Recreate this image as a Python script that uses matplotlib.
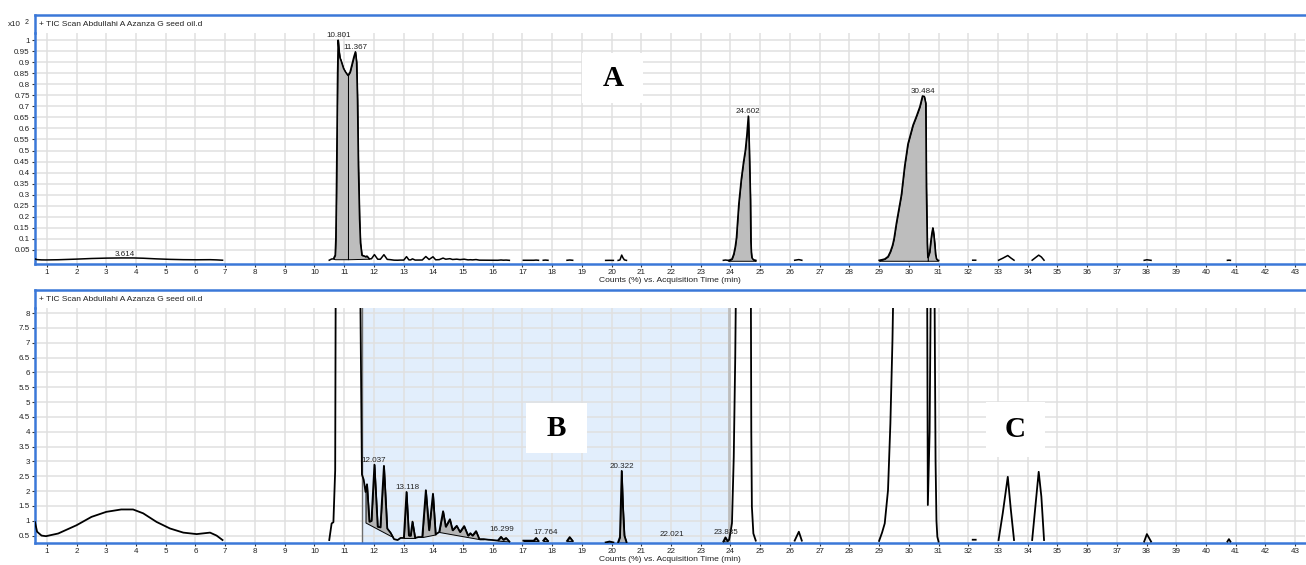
import numpy as np
import matplotlib
matplotlib.use('Agg')
import matplotlib.pyplot as plt
from matplotlib.patches import Rectangle
from matplotlib.ticker import FuncFormatter

plt.rcParams['font.family'] = ['Liberation Sans', 'DejaVu Sans']

# TIC trace: acquisition time (min) and counts (%)
# None = no signal drawn between segments
rt_min = [
    0.60, 0.67, 0.82, 0.97, 1.38, 2.00, 2.50, 3.00, 3.50, 3.90, 4.24, 4.69, 5.14, 5.59, 6.04, 6.49, 6.71, 6.91, None,
    10.50, 10.58, 10.64, 10.70, 10.72, 10.74, 10.76, 10.78, 10.80, 10.83, 10.86, 10.89, 10.98, 11.05, 11.13,
    11.20, 11.26, 11.33, 11.38, 11.42, 11.45, 11.48, 11.52, 11.55, 11.60, 11.66, 11.72, 11.77, 11.85, 11.92,
    12.02, 12.13, 12.22, 12.34, 12.45, 12.56, 12.68, 12.80, 12.90, 13.01, 13.10, 13.18, 13.24, 13.30, 13.39,
    13.50, 13.63, 13.75, 13.86, 13.99, 14.08, 14.20, 14.33, 14.42, 14.56, 14.65, 14.79, 14.90, 15.04, 15.17,
    15.25, 15.32, 15.44, 15.55, 15.70, 15.85, 16.00, 16.17, 16.28, 16.36, 16.45, 16.56, None,
    17.03, 17.38, 17.46, 17.54, None,
    17.70, 17.77, 17.86, None,
    18.50, 18.59, 18.69, None,
    19.80, 19.93, 20.06, None,
    20.22, 20.28, 20.31, 20.34, 20.38, 20.43, 20.50, None,
    23.76, 23.83, 23.90, 23.95, 24.00, 24.05, 24.11, 24.16, 24.20, 24.24, 24.28, 24.36, 24.44, 24.50, 24.55,
    24.60, 24.63, 24.65, 24.67, 24.685, 24.70, 24.72, 24.77, 24.85, None,
    26.16, 26.30, 26.40, None,
    29.00, 29.10, 29.19, 29.30, 29.38, 29.45, 29.50, 29.58, 29.75, 29.86, 29.97, 30.14, 30.25, 30.37, 30.46,
    30.52, 30.57, 30.59, 30.62, 30.64, 30.70, 30.74, 30.78, 30.81, 30.84, 30.87, 30.90, 30.93, 30.96, 31.00, None,
    32.15, 32.25, None,
    33.02, 33.16, 33.33, 33.43, 33.54, None,
    34.15, 34.29, 34.37, 34.46, 34.55, None,
    37.92, 38.01, 38.15, None,
    40.72, 40.77, 40.82,
]
counts_pct = [
    0.95, 0.63, 0.50, 0.48, 0.57, 0.85, 1.13, 1.30, 1.38, 1.38, 1.25, 0.96, 0.74, 0.60, 0.55, 0.60, 0.50, 0.35, None,
    0.35, 0.91, 0.95, 2.7, 10, 30, 60, 85, 100, 95, 92, 91, 87.2, 85.5, 84,
    85.5, 88.7, 92.5, 94.7, 90, 73, 43, 19, 8.2, 2.56, 2.38, 1.97, 2.23, 0.97, 1.0,
    2.89, 0.80, 0.78, 2.85, 0.74, 0.60, 0.38, 0.35, 0.42, 0.42, 1.97, 0.50, 0.50, 0.97, 0.42,
    0.45, 0.45, 2.03, 0.68, 1.91, 0.54, 0.62, 1.32, 0.80, 1.05, 0.68, 0.83, 0.62, 0.82, 0.50,
    0.58, 0.50, 0.65, 0.38, 0.38, 0.36, 0.35, 0.33, 0.46, 0.36, 0.42, 0.30, None,
    0.33, 0.33, 0.42, 0.32, None,
    0.33, 0.42, 0.32, None,
    0.32, 0.45, 0.32, None,
    0.27, 0.30, 0.27, None,
    0.28, 0.45, 1.6, 2.68, 1.5, 0.50, 0.28, None,
    0.30, 0.44, 0.32, 0.35, 0.60, 0.92, 3.15, 6.5, 10.5, 18.6, 26, 36.7, 45, 50.2, 57,
    65.6, 52, 40, 28, 9, 4.0, 1.47, 0.57, 0.33, None,
    0.33, 0.63, 0.33, None,
    0.32, 0.60, 0.91, 2.03, 4.28, 7.08, 10, 17, 30, 43, 53, 61.5, 65.3, 69.8, 74.7,
    74.5, 71.4, 33.7, 8, 1.53, 4, 9, 13, 15, 12, 8, 3, 1, 0.46, 0.30, None,
    0.36, 0.36, None,
    0.35, 1.25, 2.48, 1.40, 0.35, None,
    0.35, 1.81, 2.65, 1.81, 0.35, None,
    0.30, 0.55, 0.30, None,
    0.30, 0.38, 0.30,
]

# labelled peaks (retention time text, anchor time, anchor counts %)
top_labels = ['3.614', '10.801', '11.367', '24.602', '30.484']
top_label_rt = [3.62, 10.80, 11.38, 24.60, 30.48]
top_label_pct = [1.1, 100, 94.7, 65.6, 74.7]
bot_labels = ['12.037', '13.118', '16.299', '17.764', '20.322', '22.021', '23.835']
bot_label_rt = [11.99, 13.13, 16.30, 17.77, 20.34, 22.02, 23.84]
bot_label_pct = [2.89, 1.97, 0.55, 0.45, 2.68, 0.38, 0.45]

# integrated peaks: start, end, baseline at start, baseline at end (counts %)
top_integrations = [(10.70, 11.13, 0.8, 0.8), (11.13, 11.77, 0.8, 1.0),
                    (23.95, 24.85, 0.1, 0.1), (29.00, 30.64, 0.1, 0.1), (30.64, 30.96, 0.1, 0.1)]
bot_integrations = [(11.72, 12.62, 0.94, 0.46), (13.01, 13.39, 0.42, 0.42), (13.63, 14.08, 0.45, 0.54),
                    (14.20, 15.55, 0.62, 0.38), (16.17, 16.56, 0.33, 0.30), (17.38, 17.54, 0.32, 0.32),
                    (17.70, 17.86, 0.32, 0.32), (18.50, 18.69, 0.32, 0.32), (19.80, 20.06, 0.26, 0.26),
                    (20.22, 20.50, 0.28, 0.28), (23.76, 23.90, 0.30, 0.30)]
region_b = (11.6, 23.95)

x_ticks = list(range(1, 44))
top_yticks = [round(0.05 * i, 2) for i in range(1, 21)]
bot_yticks = [0.5 * i for i in range(1, 17)]

rt = np.array([np.nan if v is None else v for v in rt_min], dtype=float)
pct = np.array([np.nan if v is None else v for v in counts_pct], dtype=float)

W, H = 1306, 565
BLUE = '#3b78d8'
TITLE = '+ TIC Scan Abdullahi A Azanza G seed oil.d'


def px_rect(x0, y0, x1, y1):
    return [x0 / W, 1 - y1 / H, (x1 - x0) / W, (y1 - y0) / H]


fig = plt.figure(figsize=(W / 100, H / 100), dpi=100, facecolor='white')


def setup(ax, ylim, yticks):
    ax.set_xlim(0.6, 43.33)
    ax.set_ylim(*ylim)
    ax.set_xticks(x_ticks)
    ax.set_yticks(yticks)
    ax.yaxis.set_major_formatter(FuncFormatter(lambda v, p: f'{round(v, 2):g}'))
    ax.grid(True, color='#e0e0e0', lw=1.1)
    ax.set_axisbelow(True)
    for s in ('top', 'right'):
        ax.spines[s].set_visible(False)
    for s in ('left', 'bottom'):
        ax.spines[s].set_color(BLUE)
        ax.spines[s].set_linewidth(1.8)
    ax.tick_params(length=2.5, width=0.8, color='#333333', labelsize=5.8, pad=1.2, labelcolor='#222222')
    ax.set_xlabel('Counts (%) vs. Acquisition Time (min)', fontsize=6.1, labelpad=0.5, color='#222222')


def header(rect):
    hx = fig.add_axes(rect)
    hx.set_xticks([])
    hx.set_yticks([])
    hx.patch.set_alpha(0)
    for s in ('right', 'bottom'):
        hx.spines[s].set_visible(False)
    for s in ('top', 'left'):
        hx.spines[s].set_color(BLUE)
        hx.spines[s].set_linewidth(1.8)
    hx.text(0.003, 0.48, TITLE, transform=hx.transAxes, va='center', ha='left', fontsize=6, color='#222222')


def letter_box(ax, cx, cy, w, h, letter):
    ax.add_patch(Rectangle((cx - w / 2, cy - h / 2), w, h, transform=ax.transAxes,
                           facecolor='white', edgecolor='none', zorder=3))
    ax.text(cx, cy, letter, transform=ax.transAxes, ha='center', va='center', zorder=4,
            fontsize=21, fontweight='bold', family=['Liberation Serif', 'DejaVu Serif'])


def integrate(ax, groups, scale, color):
    for t0, t1, b0, b1 in groups:
        mask = (rt >= t0 - 1e-9) & (rt <= t1 + 1e-9)
        base = np.interp(rt, [t0, t1], [b0, b1]) / scale
        ax.fill_between(rt, pct / scale, base, where=mask, interpolate=True,
                        facecolor=color, edgecolor='black', lw=0.7, zorder=2)


# ---- top panel: full scale (x10^2)
ax_t = fig.add_axes(px_rect(35, 33, 1305, 264))
header(px_rect(35, 15, 1306, 33))
setup(ax_t, (-0.0136, 1.032), top_yticks)
integrate(ax_t, top_integrations, 100, '#bdbdbd')
ax_t.plot(rt, pct / 100, color='black', lw=1.1, zorder=3)
for lab, t, v in zip(top_labels, top_label_rt, top_label_pct):
    ax_t.annotate(lab, (t, v / 100), xytext=(0, 0.5), textcoords='offset points',
                  ha='center', va='bottom', fontsize=5.8, color='#222222', zorder=5)
letter_box(ax_t, 0.455, 0.805, 0.048, 0.216, 'A')
fig.text(8 / W, 1 - 25 / H, 'x10', fontsize=5.8, va='center', ha='left', color='#222222')
fig.text(25 / W, 1 - 22 / H, '2', fontsize=5, va='center', ha='left', color='#222222')

# ---- bottom panel: zoomed (0-8 %)
ax_b = fig.add_axes(px_rect(35, 308, 1305, 543))
header(px_rect(35, 290, 1306, 308))
setup(ax_b, (0.25, 8.17), bot_yticks)
ax_b.axvspan(*region_b, color='#e2eefc', lw=0, zorder=0.2)
ax_b.axvline(region_b[0], color='#6e6e6e', lw=1.0, zorder=1)
ax_b.axvline(region_b[1], color='#bdbdbd', lw=2.0, zorder=1)
integrate(ax_b, bot_integrations, 1, '#b5b5b5')
ax_b.plot(rt, pct, color='black', lw=1.3, zorder=3)
for lab, t, v in zip(bot_labels, bot_label_rt, bot_label_pct):
    ax_b.annotate(lab, (t, v), xytext=(0, 0.5), textcoords='offset points',
                  ha='center', va='bottom', fontsize=5.8, color='#222222', zorder=5)
letter_box(ax_b, 0.4105, 0.489, 0.048, 0.213, 'B')
letter_box(ax_b, 0.772, 0.481, 0.046, 0.234, 'C')

fig.savefig('out.png', dpi=100, facecolor='white')
